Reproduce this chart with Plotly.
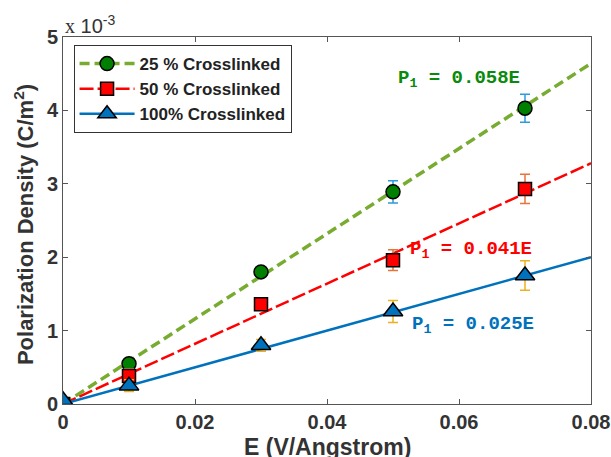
import plotly.graph_objects as go

# Data (polarization density in units of 1e-3 C/m^2)
E = [0, 0.01, 0.03, 0.05, 0.07]
p25 = [0.0, 0.55, 1.80, 2.89, 4.03]
p25_err = [0.05, 0.06, 0.06, 0.15, 0.19]
p50 = [0.0, 0.38, 1.36, 1.96, 2.93]
p50_err = [0.05, 0.10, 0.06, 0.14, 0.20]
p100 = [0.05, 0.25, 0.80, 1.26, 1.75]
p100_err = [0.05, 0.08, 0.08, 0.15, 0.20]

names = ["25 % Crosslinked", "50 % Crosslinked", "100% Crosslinked"]
slopes = [0.058, 0.041, 0.025]          # fit: P1 = slope * E  (C/m^2)
fit_labels = ["P<sub>1</sub> = 0.058E", "P<sub>1</sub> = 0.041E", "P<sub>1</sub> = 0.025E"]
fit_E = [0, 0.08]

x_ticks = [0, 0.02, 0.04, 0.06, 0.08]
x_ticktext = ["0", "0.02", "0.04", "0.06", "0.08"]
y_ticks = [0, 1, 2, 3, 4, 5]

line_colors = ["#77AC30", "#FF0000", "#0072BD"]
marker_fill = ["#007F00", "#FF0000", "#0072BD"]
err_colors = ["#2E9BDA", "#E8743B", "#EDB120"]
text_colors = ["#0A8A0A", "#FF0000", "#0072BD"]
symbols = ["circle", "square", "triangle-up"]
msizes = [14, 13, 17]
dashes = ["10px,5px", "14px,4px", "solid"]
lwidths = [3.5, 2.5, 2.5]

series = [(p25, p25_err), (p50, p50_err), (p100, p100_err)]

fig = go.Figure()

# fit lines
for i, s in enumerate(slopes):
    fig.add_trace(go.Scatter(
        x=fit_E, y=[s * e * 1000 for e in fit_E], mode="lines",
        line=dict(color=line_colors[i], width=lwidths[i], dash=dashes[i]),
        showlegend=False, hoverinfo="skip"))

# data points with error bars
for i, (vals, errs) in enumerate(series):
    fig.add_trace(go.Scatter(
        x=E, y=vals, mode="markers",
        marker=dict(symbol=symbols[i], size=msizes[i], color=marker_fill[i],
                    line=dict(color="black", width=1.5)),
        error_y=dict(type="data", array=errs, color=err_colors[i],
                     thickness=1.5, width=5),
        showlegend=False))

# legend entries
for i in range(3):
    fig.add_trace(go.Scatter(
        x=[None], y=[None], mode="lines+markers", name=names[i],
        line=dict(color=line_colors[i], width=lwidths[i], dash=dashes[i]),
        marker=dict(symbol=symbols[i], size=msizes[i], color=marker_fill[i],
                    line=dict(color="black", width=1.5))))

ann_pos = [(0.0505, 4.43), (0.0522, 2.10), (0.0525, 1.08)]
annotations = []
for i, (ax_, ay_) in enumerate(ann_pos):
    annotations.append(dict(
        x=ax_, y=ay_, xref="x", yref="y", text="<b>" + fit_labels[i] + "</b>",
        showarrow=False, xanchor="left", yanchor="middle",
        font=dict(family="Liberation Mono, Courier New, monospace", size=19,
                  color=text_colors[i])))

annotations.append(dict(
    x=0, y=1.0, xref="paper", yref="paper", xanchor="left", yanchor="bottom",
    text="<span style='font-family:Liberation Serif'>x</span> 10<sup>-3</sup>",
    showarrow=False, yshift=-2,
    font=dict(family="Liberation Sans, Arial", size=20, color="#333333")))

annotations.append(dict(
    x=0.5, y=-0.117, xref="paper", yref="paper", xanchor="center", yanchor="middle",
    text="<b>E (V/Angstrom)</b>", showarrow=False,
    font=dict(family="Liberation Sans, Arial", size=23, color="#333333")))

annotations.append(dict(
    x=-0.074, y=0.49, xref="paper", yref="paper", xanchor="center", yanchor="middle",
    text="<b>Polarization Density (C/m<sup>2</sup>)</b>", showarrow=False,
    textangle=-90,
    font=dict(family="Liberation Sans, Arial", size=22, color="#333333")))

axis_common = dict(
    showgrid=False, zeroline=False, showline=True, linecolor="#555555",
    linewidth=1, mirror="ticks", ticks="inside", ticklen=5, tickcolor="#555555",
    automargin=False,
    tickfont=dict(family="Liberation Sans, Arial", size=20, color="#333333",
                  weight="bold"))

fig.update_layout(
    width=611, height=457,
    margin=dict(l=63, r=20, t=37, b=53, autoexpand=False),
    paper_bgcolor="white", plot_bgcolor="white",
    xaxis=dict(range=[0, 0.08], tickvals=x_ticks, ticktext=x_ticktext, **axis_common),
    yaxis=dict(range=[0, 5], tickvals=y_ticks, **axis_common),
    legend=dict(x=0.02, y=0.978, xanchor="left", yanchor="top",
                bordercolor="#333333", borderwidth=1, bgcolor="white",
                font=dict(family="Liberation Sans, Arial", size=17, color="#222222",
                          weight="bold"),
                tracegroupgap=0, itemwidth=55),
    annotations=annotations,
    showlegend=True,
)

fig.write_html("out.html", config={"displayModeBar": False},
               post_script="document.body.style.margin='0';document.body.style.padding='0';")
